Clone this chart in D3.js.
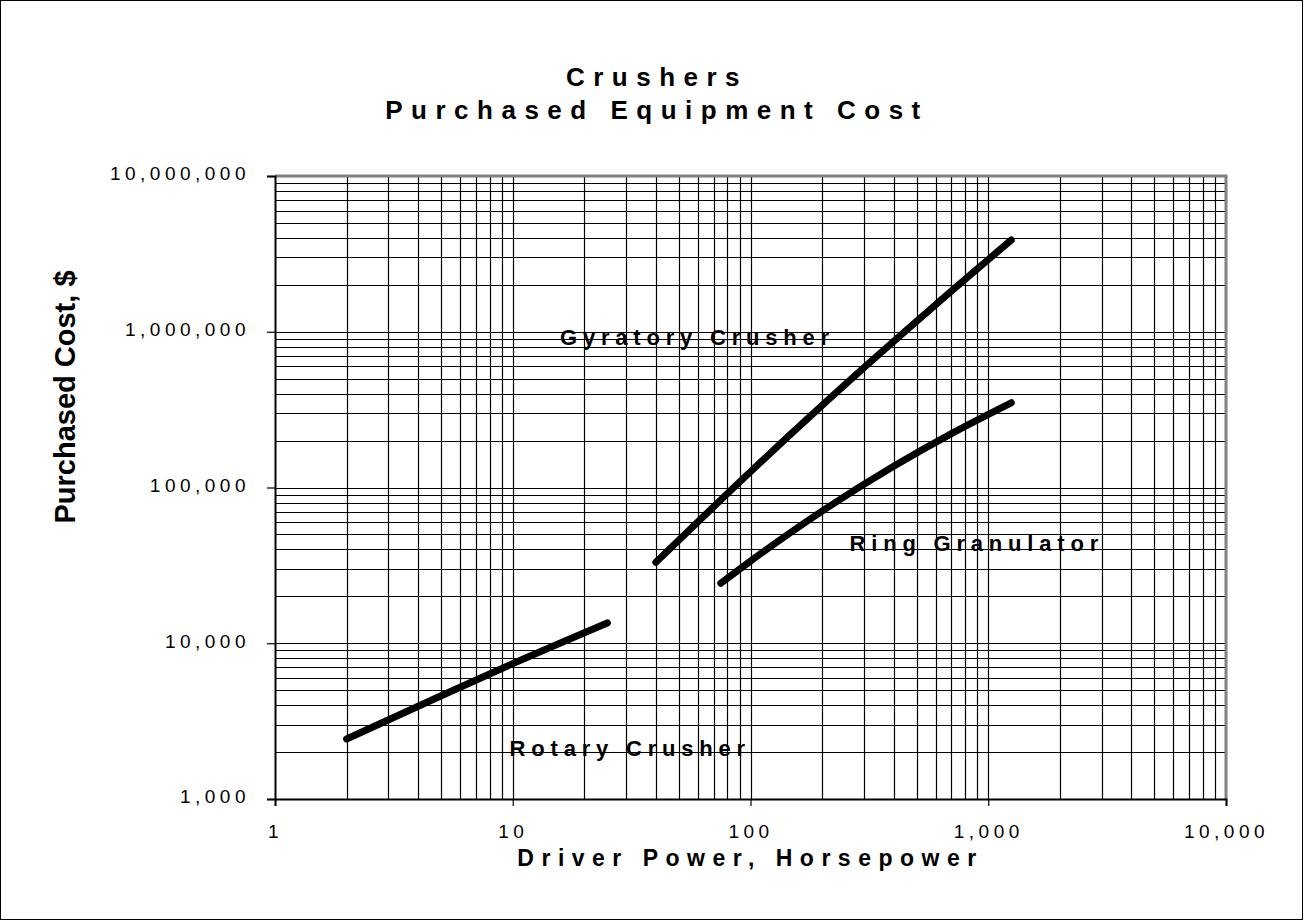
<!DOCTYPE html>
<html>
<head>
<meta charset="utf-8">
<script src="https://d3js.org/d3.v7.min.js"></script>
<style>
  body { margin: 0; background: #fff; }
  text { font-family: "Liberation Sans", Arial, sans-serif; fill: #000; }
</style>
</head>
<body>
<script>
// data: driver power (hp) vs purchased cost ($)
var rotaryHp = [2, 5, 10, 25],
    rotaryCost = [2430, 4600, 7400, 13500];

var gyratoryHp = [40, 70, 150, 300, 600, 1250],
    gyratoryCost = [33100, 75300, 225000, 588000, 1490000, 3880000];

var ringHp = [75, 100, 200, 400, 700, 1250],
    ringCost = [24300, 33700, 70600, 137000, 222000, 350000];

var xTicks = [1, 10, 100, 1000, 10000],
    yTicks = [1000, 10000, 100000, 1000000, 10000000];

// where each curve name sits (start of text, baseline)
var seriesLabels = [
    {name: "Gyratory Crusher", hp: 15.8, cost: 822000},
    {name: "Ring Granulator", hp: 261, cost: 39100},
    {name: "Rotary Crusher", hp: 9.7, cost: 1890}
];

var W = 1304, H = 921;
var margin = {top: 176, right: 78, bottom: 122, left: 275},
    width = W - margin.left - margin.right,
    height = H - margin.top - margin.bottom;

var svg = d3.select("body").append("svg")
    .attr("width", W)
    .attr("height", H);

// outer frame of the picture
svg.append("rect")
    .attr("x", 0.5).attr("y", 0.5)
    .attr("width", W - 2).attr("height", H - 2)
    .attr("fill", "none")
    .attr("stroke", "#000");

var x = d3.scaleLog().domain([1, 10000]).range([0, width]),
    y = d3.scaleLog().domain([1000, 10000000]).range([height, 0]);

var g = svg.append("g")
    .attr("transform", "translate(" + margin.left + "," + margin.top + ")");

// grid lines, every 1..9 of each decade
var xGrid = x.ticks().filter(function(d){ return d > 1 && d < 10000; }),
    yGrid = y.ticks().filter(function(d){ return d > 1000 && d < 10000000; });

g.selectAll(".vgrid").data(xGrid).enter().append("line")
    .attr("class", "vgrid")
    .attr("x1", function(d){ return Math.round(x(d)) + 0.5; })
    .attr("x2", function(d){ return Math.round(x(d)) + 0.5; })
    .attr("y1", 0).attr("y2", height)
    .attr("stroke", "#000")
    .attr("stroke-width", 1.2);

g.selectAll(".hgrid").data(yGrid).enter().append("line")
    .attr("class", "hgrid")
    .attr("y1", function(d){ return Math.round(y(d)) + 0.5; })
    .attr("y2", function(d){ return Math.round(y(d)) + 0.5; })
    .attr("x1", 0).attr("x2", width)
    .attr("stroke", "#000")
    .attr("stroke-width", 1.2);

// gray frame on top and right
g.append("path")
    .attr("d", "M0,0H" + width + "V" + height)
    .attr("fill", "none")
    .attr("stroke", "#808080")
    .attr("stroke-width", 3);

// axes
var fmt = d3.format(",");

var xAxis = d3.axisBottom(x).tickValues(xTicks).tickFormat(fmt)
    .tickSize(7).tickPadding(19);
var yAxis = d3.axisLeft(y).tickValues(yTicks).tickFormat(fmt)
    .tickSize(8).tickPadding(17);

var gx = g.append("g")
    .attr("transform", "translate(0," + height + ")")
    .call(xAxis);
var gy = g.append("g").call(yAxis);

[gx, gy].forEach(function(a){
    a.select(".domain").attr("stroke", "#000").attr("stroke-width", 2);
    a.selectAll(".tick line").attr("stroke", "#000").attr("stroke-width", 1.2);
    a.selectAll(".tick text")
        .style("font-family", "'Liberation Sans', Arial, sans-serif")
        .style("font-size", "19px")
        .style("letter-spacing", "4.5px")
        .attr("fill", "#000");
});
gy.selectAll(".tick text").attr("dy", "0.2em");

// curves
var line = d3.line()
    .x(function(d){ return x(d[0]); })
    .y(function(d){ return y(d[1]); })
    .curve(d3.curveMonotoneX);

[[rotaryHp, rotaryCost], [gyratoryHp, gyratoryCost], [ringHp, ringCost]]
    .forEach(function(s){
        g.append("path")
            .datum(d3.zip(s[0], s[1]))
            .attr("d", line)
            .attr("fill", "none")
            .attr("stroke", "#000")
            .attr("stroke-width", 7)
            .attr("stroke-linecap", "round");
    });

// curve labels
g.selectAll(".slabel").data(seriesLabels).enter().append("text")
    .attr("class", "slabel")
    .attr("x", function(d){ return x(d.hp); })
    .attr("y", function(d){ return y(d.cost); })
    .style("font-size", "22px")
    .style("font-weight", "bold")
    .style("letter-spacing", "5.8px")
    .text(function(d){ return d.name; });

// titles
svg.append("text")
    .attr("x", 657).attr("y", 86)
    .attr("text-anchor", "middle")
    .style("font-size", "26px").style("font-weight", "bold")
    .style("letter-spacing", "8.5px")
    .text("Crushers");
svg.append("text")
    .attr("x", 657).attr("y", 119)
    .attr("text-anchor", "middle")
    .style("font-size", "26px").style("font-weight", "bold")
    .style("letter-spacing", "8.5px")
    .text("Purchased Equipment Cost");

svg.append("text")
    .attr("x", margin.left + width / 2).attr("y", 866)
    .attr("text-anchor", "middle")
    .style("font-size", "23px").style("font-weight", "bold")
    .style("letter-spacing", "7.5px")
    .text("Driver Power, Horsepower");

svg.append("text")
    .attr("transform", "translate(75,397) rotate(-90)")
    .attr("text-anchor", "middle")
    .style("font-size", "29px").style("font-weight", "bold")
    .text("Purchased Cost, $");
</script>
</body>
</html>
